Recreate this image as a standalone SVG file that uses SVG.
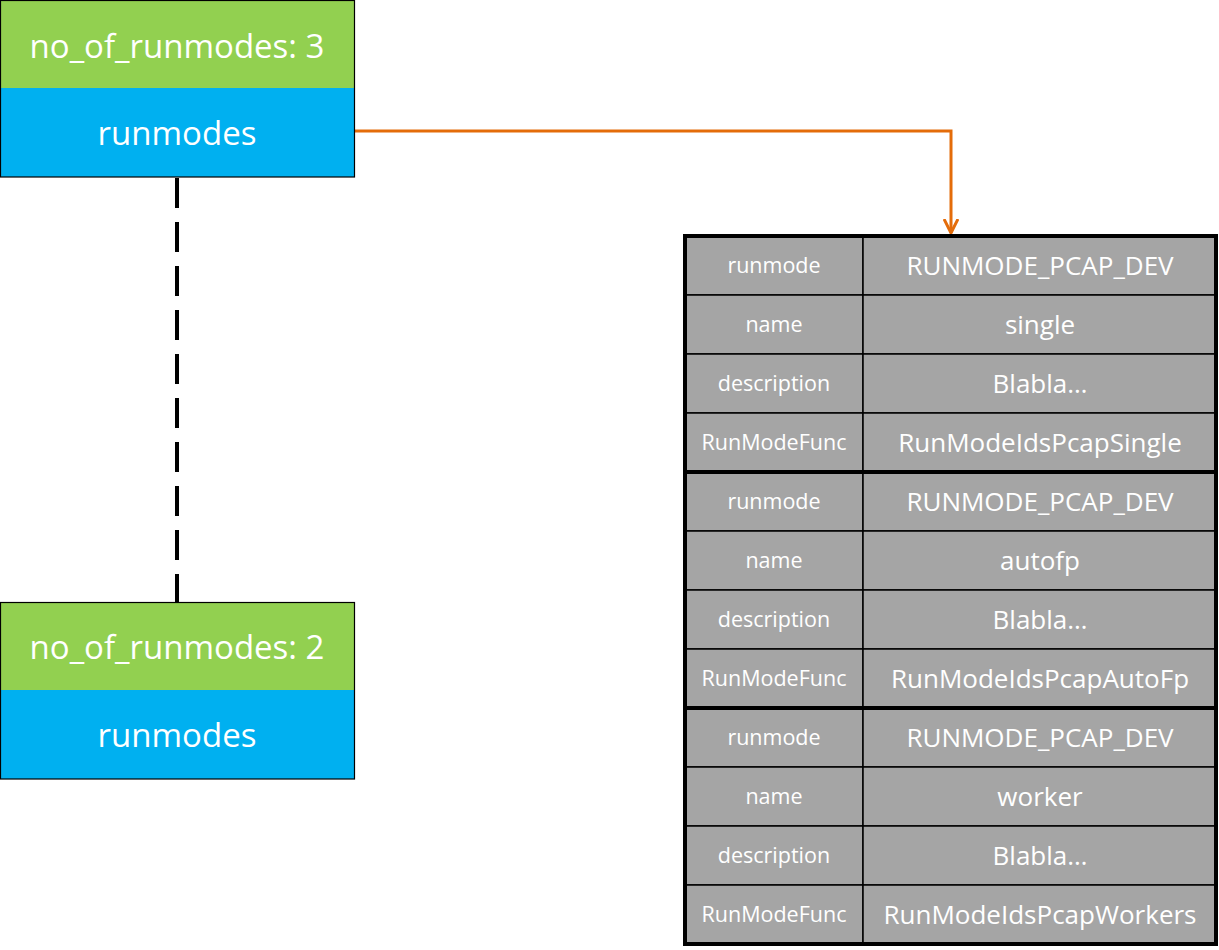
<svg xmlns="http://www.w3.org/2000/svg" width="1219" height="950" viewBox="0 0 1219 950">
<style>
.green{fill:#92D050}
.blue{fill:#00B0F0}
.frame{fill:none;stroke:#000;stroke-width:1.2}
.big{font-family:"Open Sans","Noto Sans",sans-serif;font-size:33px;fill:#fff;text-anchor:middle}
.cell{fill:#A5A5A5;stroke:#000;stroke-width:1.5}
.blk{fill:none;stroke:#000;stroke-width:4}
.lbl{font-family:"Open Sans","Noto Sans",sans-serif;font-size:21.5px;fill:#fff;text-anchor:middle}
.val{font-family:"Open Sans","Noto Sans",sans-serif;font-size:26px;fill:#fff;text-anchor:middle}
</style>
<defs>
<marker id="arr" markerWidth="16" markerHeight="16" refX="14" refY="8" orient="auto" markerUnits="userSpaceOnUse" viewBox="0 0 16 16">
<path d="M0,1 L14,8 L0,15" fill="none" stroke="#E46C0A" stroke-width="3"/>
</marker>
</defs>
<rect width="1219" height="950" fill="#fff"/>
<g id="connectors">
<line x1="177" y1="178" x2="177" y2="602" stroke="#000" stroke-width="4" stroke-dasharray="30,14"/>
<polyline points="355,131 951,131 951,233" fill="none" stroke="#E46C0A" stroke-width="3" marker-end="url(#arr)"/>
</g>
<g id="node-top">
<rect x="0.5" y="0.5" width="354" height="88" class="green"/>
<rect x="0.5" y="88" width="354" height="89" class="blue"/>
<rect x="0.5" y="0.5" width="354" height="176.5" class="frame"/>
<text x="177" y="58" class="big">no_of_runmodes: 3</text>
<text x="177" y="145" class="big">runmodes</text>
</g>
<g id="node-bottom">
<rect x="0.5" y="602.5" width="354" height="88" class="green"/>
<rect x="0.5" y="690" width="354" height="89" class="blue"/>
<rect x="0.5" y="602.5" width="354" height="176.5" class="frame"/>
<text x="177" y="659" class="big">no_of_runmodes: 2</text>
<text x="177" y="747" class="big">runmodes</text>
</g>
<g id="table-block-1">
<rect x="685" y="236" width="178" height="59" class="cell"/><rect x="863" y="236" width="353" height="59" class="cell"/>
<rect x="685" y="295" width="178" height="59" class="cell"/><rect x="863" y="295" width="353" height="59" class="cell"/>
<rect x="685" y="354" width="178" height="59" class="cell"/><rect x="863" y="354" width="353" height="59" class="cell"/>
<rect x="685" y="413" width="178" height="59" class="cell"/><rect x="863" y="413" width="353" height="59" class="cell"/>
<rect x="685" y="236" width="531" height="236" class="blk"/>
<text x="774" y="273" class="lbl">runmode</text><text x="1040" y="275" class="val">RUNMODE_PCAP_DEV</text>
<text x="774" y="332" class="lbl">name</text><text x="1040" y="334" class="val">single</text>
<text x="774" y="391" class="lbl">description</text><text x="1040" y="393" class="val">Blabla…</text>
<text x="774" y="450" class="lbl">RunModeFunc</text><text x="1040" y="452" class="val">RunModeIdsPcapSingle</text>
</g>
<g id="table-block-2">
<rect x="685" y="472" width="178" height="59" class="cell"/><rect x="863" y="472" width="353" height="59" class="cell"/>
<rect x="685" y="531" width="178" height="59" class="cell"/><rect x="863" y="531" width="353" height="59" class="cell"/>
<rect x="685" y="590" width="178" height="59" class="cell"/><rect x="863" y="590" width="353" height="59" class="cell"/>
<rect x="685" y="649" width="178" height="59" class="cell"/><rect x="863" y="649" width="353" height="59" class="cell"/>
<rect x="685" y="472" width="531" height="236" class="blk"/>
<text x="774" y="509" class="lbl">runmode</text><text x="1040" y="511" class="val">RUNMODE_PCAP_DEV</text>
<text x="774" y="568" class="lbl">name</text><text x="1040" y="570" class="val">autofp</text>
<text x="774" y="627" class="lbl">description</text><text x="1040" y="629" class="val">Blabla…</text>
<text x="774" y="686" class="lbl">RunModeFunc</text><text x="1040" y="688" class="val">RunModeIdsPcapAutoFp</text>
</g>
<g id="table-block-3">
<rect x="685" y="708" width="178" height="59" class="cell"/><rect x="863" y="708" width="353" height="59" class="cell"/>
<rect x="685" y="767" width="178" height="59" class="cell"/><rect x="863" y="767" width="353" height="59" class="cell"/>
<rect x="685" y="826" width="178" height="59" class="cell"/><rect x="863" y="826" width="353" height="59" class="cell"/>
<rect x="685" y="885" width="178" height="59" class="cell"/><rect x="863" y="885" width="353" height="59" class="cell"/>
<rect x="685" y="708" width="531" height="236" class="blk"/>
<text x="774" y="745" class="lbl">runmode</text><text x="1040" y="747" class="val">RUNMODE_PCAP_DEV</text>
<text x="774" y="804" class="lbl">name</text><text x="1040" y="806" class="val">worker</text>
<text x="774" y="863" class="lbl">description</text><text x="1040" y="865" class="val">Blabla…</text>
<text x="774" y="922" class="lbl">RunModeFunc</text><text x="1040" y="924" class="val">RunModeIdsPcapWorkers</text>
</g>
</svg>
